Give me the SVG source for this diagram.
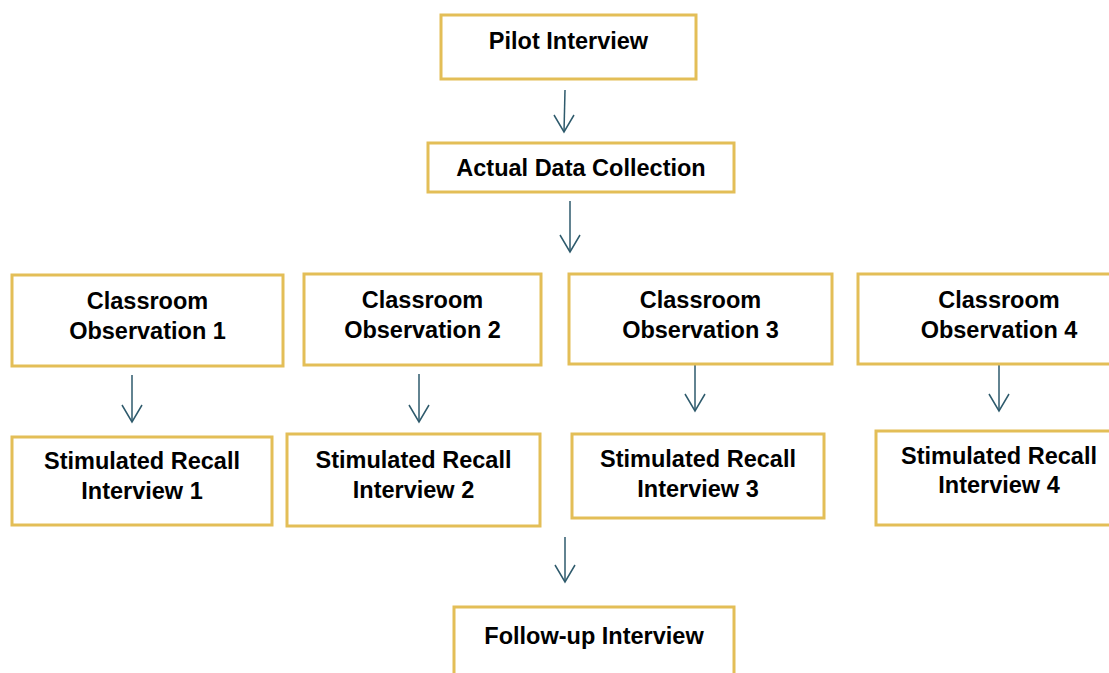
<svg xmlns="http://www.w3.org/2000/svg" width="1109" height="673" viewBox="0 0 1109 673">
<defs>
<style>
.box{fill:#fff;stroke:#E3BE57;stroke-width:3}
.t{font-family:"Liberation Sans",Arial,sans-serif;font-weight:bold;font-size:23.5px;fill:#000;text-anchor:middle}
.c{stroke:#2E5A6C;stroke-width:1.5;fill:none}
</style>
</defs>
<rect width="1109" height="673" fill="#fff"/>
<g id="connectors">
<path class="c" d="M565,90 L564,132"/>
<path d="M554,115 L564,132 L574,115" class="c"/>
<path class="c" d="M570,201 L570,252"/>
<path d="M560,235 L570,252 L580,235" class="c"/>
<path class="c" d="M132,375 L132,422"/>
<path d="M122,405 L132,422 L142,405" class="c"/>
<path class="c" d="M419,374 L419,422"/>
<path d="M409,405 L419,422 L429,405" class="c"/>
<path class="c" d="M695,364 L695,411"/>
<path d="M685,394 L695,411 L705,394" class="c"/>
<path class="c" d="M999,364 L999,411"/>
<path d="M989,394 L999,411 L1009,394" class="c"/>
<path class="c" d="M565,537 L565,582"/>
<path d="M555,565 L565,582 L575,565" class="c"/>
</g>
<g id="pilot">
<rect class="box" x="441" y="15" width="255" height="64"/>
<text class="t" x="568.5" y="49">Pilot Interview</text>
</g>
<g id="actual">
<rect class="box" x="428" y="143" width="306" height="49"/>
<text class="t" x="581" y="176">Actual Data Collection</text>
</g>
<g id="co1">
<rect class="box" x="12" y="275" width="271" height="91"/>
<text class="t" x="147.5" y="309">Classroom</text>
<text class="t" x="147.5" y="339">Observation 1</text>
</g>
<g id="co2">
<rect class="box" x="304" y="274" width="237" height="91"/>
<text class="t" x="422.5" y="308">Classroom</text>
<text class="t" x="422.5" y="338">Observation 2</text>
</g>
<g id="co3">
<rect class="box" x="569" y="274" width="263" height="90"/>
<text class="t" x="700.5" y="308">Classroom</text>
<text class="t" x="700.5" y="338">Observation 3</text>
</g>
<g id="co4">
<rect class="box" x="858" y="274" width="282" height="90"/>
<text class="t" x="999" y="308">Classroom</text>
<text class="t" x="999" y="338">Observation 4</text>
</g>
<g id="sr1">
<rect class="box" x="12" y="437" width="260" height="88"/>
<text class="t" x="142" y="469">Stimulated Recall</text>
<text class="t" x="142" y="499">Interview 1</text>
</g>
<g id="sr2">
<rect class="box" x="287" y="434" width="253" height="92"/>
<text class="t" x="413.5" y="468">Stimulated Recall</text>
<text class="t" x="413.5" y="498">Interview 2</text>
</g>
<g id="sr3">
<rect class="box" x="572" y="434" width="252" height="84"/>
<text class="t" x="698" y="467">Stimulated Recall</text>
<text class="t" x="698" y="497">Interview 3</text>
</g>
<g id="sr4">
<rect class="box" x="876" y="431" width="246" height="94"/>
<text class="t" x="999" y="464">Stimulated Recall</text>
<text class="t" x="999" y="493">Interview 4</text>
</g>
<g id="followup">
<rect class="box" x="454" y="607" width="280" height="80"/>
<text class="t" x="594" y="644">Follow-up Interview</text>
</g>
</svg>
